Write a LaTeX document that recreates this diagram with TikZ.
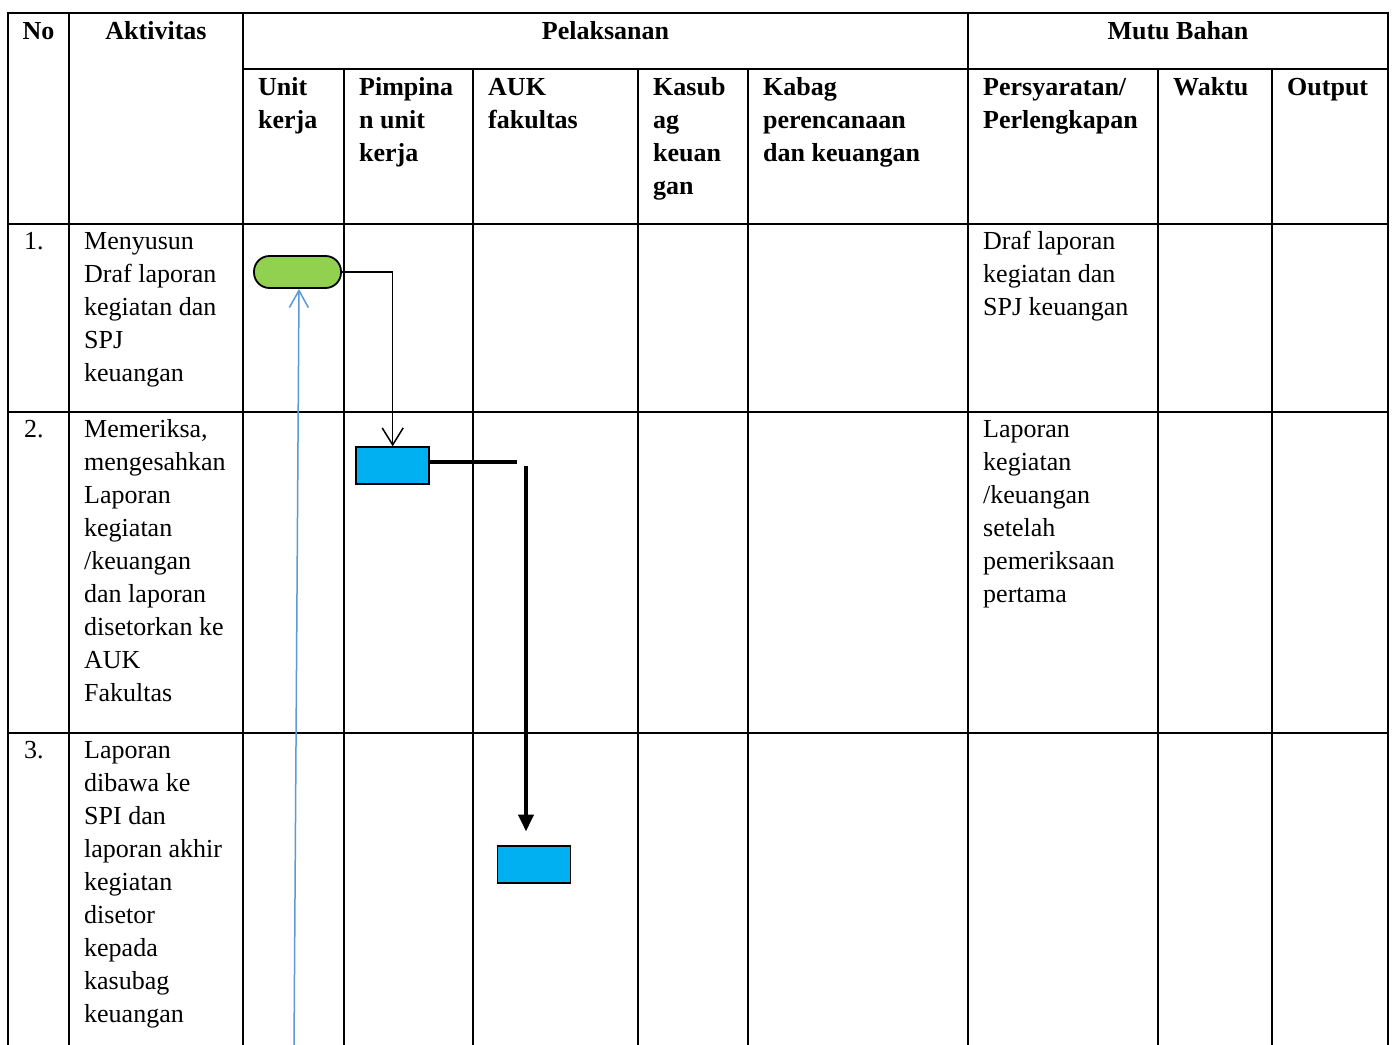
\documentclass[tikz,border=0pt]{standalone}
\usepackage{fontspec}
\setmainfont{Liberation Serif}
\usetikzlibrary{arrows.meta}
\newcommand\cellx[1]{\begin{tabular}[t]{@{}l@{}}#1\end{tabular}}
\definecolor{termgreen}{HTML}{92D050}
\definecolor{procblue}{HTML}{00B0F0}
\definecolor{flowblue}{HTML}{5B9BD5}
\begin{document}
\begin{tikzpicture}[x=1pt,y=-1pt,
  grid/.style={line width=1.5pt,black,line cap=rect},
  txt/.style={anchor=base west,inner sep=0pt,font=\fontsize{26}{33}\selectfont},
  hdr/.style={anchor=base west,inner sep=0pt,font=\fontsize{26}{33}\selectfont\bfseries},
  hdrc/.style={hdr,anchor=base},
  terminal/.style={draw=black,line width=1.8pt,fill=termgreen,rounded corners=15.5pt,minimum width=87pt,minimum height=32pt,inner sep=0pt},
  proc/.style={draw=black,line width=1.8pt,fill=procblue,minimum width=73pt,minimum height=37pt,inner sep=0pt},
  thinflow/.style={draw=black,line width=1.5pt,-{Straight Barb[length=17pt,width=21pt,line width=1.5pt]}},
  thickflow/.style={draw=black,line width=4pt},
  thickarrow/.style={thickflow,-{Triangle[length=17pt,width=15pt]}},
  blueflow/.style={draw=flowblue,line width=1.5pt,-{Straight Barb[length=17pt,width=19pt,line width=1.5pt]}}
]
\useasboundingbox (0,0) rectangle (1394,1044);
\fill[white] (0,0) rectangle (1394,1044);
% grid
\draw[grid] (8,13) -- (1388,13);
\draw[grid] (243,69) -- (1388,69);
\foreach \y in {224,412,733} \draw[grid] (8,\y) -- (1388,\y);
\foreach \x in {8,69,243,968,1388} \draw[grid] (\x,13) -- (\x,1050);
\foreach \x in {344,473,638,748,1158,1272} \draw[grid] (\x,69) -- (\x,1050);
% header
\node[hdrc] (hNo) at (38.5,39) {No};
\node[hdrc] (hAkt) at (156,39) {Aktivitas};
\node[hdrc] (hPel) at (605.5,39) {Pelaksanan};
\node[hdrc] (hMutu) at (1178,39) {Mutu Bahan};
\node[hdr] (hUnit) at (258,95.5) {\cellx{Unit\\kerja}};
\node[hdr] (hPimp) at (359,95.5) {\cellx{Pimpina\\n unit\\kerja}};
\node[hdr] (hAuk) at (488,95.5) {\cellx{AUK\\fakultas}};
\node[hdr] (hKasub) at (653,95.5) {\cellx{Kasub\\ag\\keuan\\gan}};
\node[hdr] (hKabag) at (763,95.5) {\cellx{Kabag\\perencanaan\\dan keuangan}};
\node[hdr] (hPers) at (983,95.5) {\cellx{Persyaratan/\\Perlengkapan}};
\node[hdr] (hWaktu) at (1173,95.5) {Waktu};
\node[hdr] (hOut) at (1287,95.5) {Output};
% body
\node[txt] (n1) at (24,249) {1.};
\node[txt] (a1) at (84,249) {\cellx{Menyusun\\Draf laporan\\kegiatan dan\\SPJ\\keuangan}};
\node[txt] (m1) at (983,249) {\cellx{Draf laporan\\kegiatan dan\\SPJ keuangan}};
\node[txt] (n2) at (24,437) {2.};
\node[txt] (a2) at (84,437) {\cellx{Memeriksa,\\mengesahkan\\Laporan\\kegiatan\\/keuangan\\dan laporan\\disetorkan ke\\AUK\\Fakultas}};
\node[txt] (m2) at (983,437) {\cellx{Laporan\\kegiatan\\/keuangan\\setelah\\pemeriksaan\\pertama}};
\node[txt] (n3) at (24,758) {3.};
\node[txt] (a3) at (84,758) {\cellx{Laporan\\dibawa ke\\SPI dan\\laporan akhir\\kegiatan\\disetor\\kepada\\kasubag\\keuangan}};
% flow shapes
\node[terminal] (start) at (297.5,272) {};
\node[proc] (p1) at (392.7,465.7) {};
\node[proc] (p2) at (534,864.5) {};
\coordinate (c1) at (517,462);
\coordinate (c2) at (526,466);
\coordinate (c3) at (526,831.5);
\coordinate (c4) at (294,1050);
\coordinate (c5) at (299,289);
% connectors
\draw[thinflow] (start.east) -| (p1.north);
\draw[thickflow] (p1.east |- c1) -- (c1);
\draw[thickarrow] (c2) -- (c3);
\draw[blueflow] (c4) -- (c5);
\end{tikzpicture}
\end{document}
